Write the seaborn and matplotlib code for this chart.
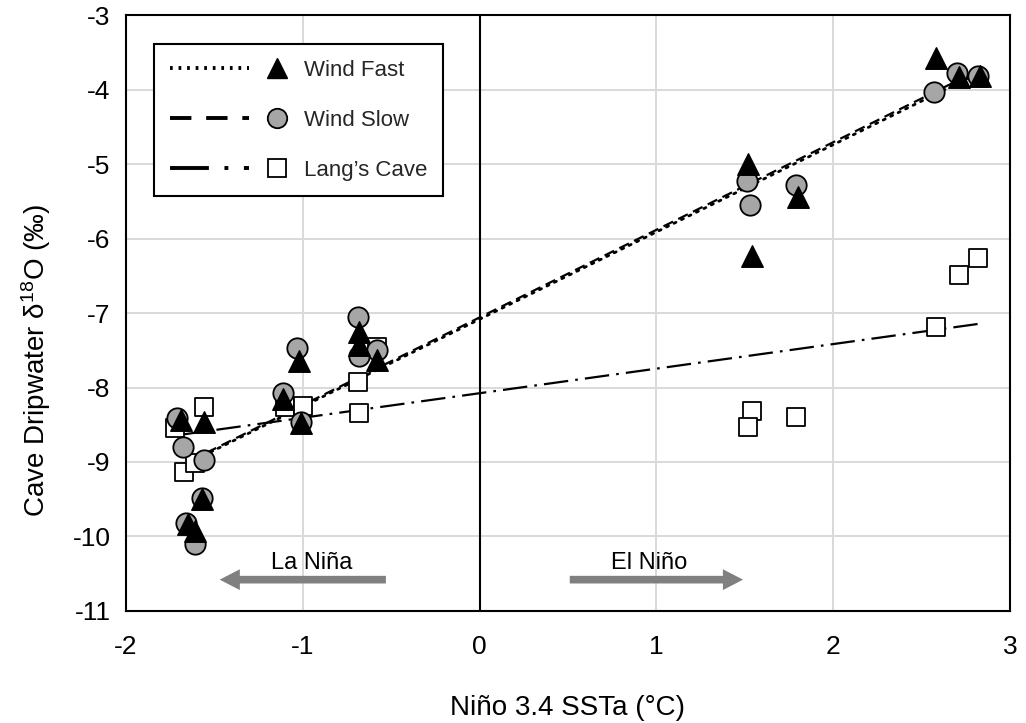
import matplotlib
matplotlib.use("Agg")
import matplotlib.pyplot as plt
from matplotlib.lines import Line2D
from matplotlib.legend_handler import HandlerBase
import numpy as np
import pandas as pd
import seaborn as sns

# ---- data ----
nino_fast = [-1.69, -1.56, -1.57, -1.65, -1.61, -1.11, -1.02, -1.01, -0.68, -0.68, -0.58,
             1.52, 1.54, 1.80, 2.58, 2.71, 2.83]
d18o_fast = [-8.44, -8.46, -9.50, -9.83, -9.93, -8.15, -7.64, -8.48, -7.25, -7.43, -7.63,
             -5.00, -6.23, -5.44, -3.57, -3.83, -3.82]

nino_slow = [-1.71, -1.68, -1.56, -1.57, -1.66, -1.61, -1.11, -1.03, -1.01, -0.69, -0.68, -0.58,
             1.515, 1.53, 1.79, 2.57, 2.70, 2.82]
d18o_slow = [-8.41, -8.80, -8.97, -9.48, -9.82, -10.10, -8.07, -7.47, -8.46, -7.05, -7.58, -7.49,
             -5.22, -5.55, -5.28, -4.03, -3.77, -3.82]

nino_lang = [-1.56, -1.72, -1.67, -1.61, -1.10, -1.00, -0.69, -0.68, -0.58,
             1.54, 1.52, 1.79, 2.58, 2.71, 2.82]
d18o_lang = [-8.26, -8.55, -9.13, -9.02, -8.26, -8.25, -7.92, -8.34, -7.46,
             -8.31, -8.53, -8.40, -7.19, -6.49, -6.26]

series_names = ["Wind Fast", "Wind Slow", "Lang\u2019s Cave"]
x_ticks = [-2, -1, 0, 1, 2, 3]
y_ticks = [-11, -10, -9, -8, -7, -6, -5, -4, -3]

sns.set_theme(style="whitegrid")
plt.rcParams["font.family"] = ["Liberation Sans", "DejaVu Sans"]
plt.rcParams["mathtext.fontset"] = "custom"
plt.rcParams["mathtext.rm"] = "Liberation Sans"
plt.rcParams["mathtext.it"] = "Liberation Sans"
plt.rcParams["axes.unicode_minus"] = False

fig, ax = plt.subplots(figsize=(10.26, 7.23), dpi=100)
fig.subplots_adjust(left=0.1228, right=0.9844, top=0.979, bottom=0.155)

df_fast = pd.DataFrame({"x": nino_fast, "y": d18o_fast})
df_slow = pd.DataFrame({"x": nino_slow, "y": d18o_slow})
df_lang = pd.DataFrame({"x": nino_lang, "y": d18o_lang})

# regression lines
lw_plot = 1.6
sns.regplot(data=df_fast, x="x", y="y", scatter=False, ci=None, truncate=True, ax=ax,
            line_kws=dict(color="black", lw=2.0, dashes=(0.8, 2.2), dash_capstyle="round", zorder=3))
sns.regplot(data=df_slow, x="x", y="y", scatter=False, ci=None, truncate=True, ax=ax,
            line_kws=dict(color="black", lw=lw_plot, dashes=(4.8, 2.6), zorder=3))
sns.regplot(data=df_lang, x="x", y="y", scatter=False, ci=None, truncate=True, ax=ax,
            line_kws=dict(color="black", lw=lw_plot, dashes=(11, 3.2, 1.2, 3.2), zorder=3))

# points
sns.scatterplot(data=df_lang, x="x", y="y", marker="s", s=175, facecolor="white",
                edgecolor="black", linewidth=1.3, ax=ax, zorder=4)
sns.scatterplot(data=df_slow, x="x", y="y", marker="o", s=215, color="#A6A6A6",
                edgecolor="black", linewidth=1.3, ax=ax, zorder=5)
sns.scatterplot(data=df_fast, x="x", y="y", marker="^", s=240, color="black",
                edgecolor="black", linewidth=1.0, ax=ax, zorder=6)

ax.axvline(0, color="black", lw=1.5, zorder=2)

ax.set_xlim(-2, 3)
ax.set_ylim(-11, -3)
ax.set_xticks(x_ticks)
ax.set_yticks(y_ticks)
ax.set_xticklabels([str(t) for t in x_ticks])
ax.set_yticklabels([str(t) for t in y_ticks])
ax.tick_params(axis="both", length=0, labelsize=19, colors="black")
ax.tick_params(axis="x", pad=17)
ax.tick_params(axis="y", pad=11)
ax.grid(True, color="#D9D9D9", lw=1.4)
ax.set_axisbelow(True)
for sp in ax.spines.values():
    sp.set_color("black")
    sp.set_linewidth(1.5)

ax.set_xlabel("Niño 3.4 SSTa (°C)", fontsize=20, labelpad=26, color="black")
ax.set_ylabel("Cave Dripwater δ$^{18}$O (‰)", fontsize=20, color="black")
ax.yaxis.set_label_coords(-0.083, 0.42)

# ENSO arrows
arrow_kw = dict(arrowstyle="simple,head_width=1.5,head_length=1.45,tail_width=0.55",
                color="#808080", mutation_scale=10, shrinkA=0, shrinkB=0, lw=0)
ax.annotate("", xy=(-1.47, -10.58), xytext=(-0.53, -10.58), arrowprops=arrow_kw, zorder=2)
ax.annotate("", xy=(1.49, -10.58), xytext=(0.51, -10.58), arrowprops=arrow_kw, zorder=2)
ax.text(-0.95, -10.36, "La Niña", fontsize=17, ha="center", va="center", color="black")
ax.text(0.96, -10.36, "El Niño", fontsize=17, ha="center", va="center", color="black")


# legend: line sample followed by marker
class LineMarker(HandlerBase):
    def create_artists(self, legend, orig_handle, xdescent, ydescent, width, height, fontsize, trans):
        ln, mk = orig_handle
        y = height / 2 - ydescent
        x0 = -xdescent
        l = Line2D([x0, x0 + 0.65 * width], [y, y])
        l.update_from(ln)
        l.set_data([x0, x0 + 0.65 * width], [y, y])
        m = Line2D([x0 + 0.877 * width], [y])
        m.update_from(mk)
        m.set_data([x0 + 0.877 * width], [y])
        l.set_transform(trans)
        m.set_transform(trans)
        return [l, m]


h_fast = (Line2D([], [], color="black", lw=2.8, dashes=(0.7, 1.5)),
          Line2D([], [], ls="none", marker="^", ms=15, mfc="black", mec="black"))
h_slow = (Line2D([], [], color="black", lw=2.8, dashes=(5.5, 3.8)),
          Line2D([], [], ls="none", marker="o", ms=14, mfc="#A6A6A6", mec="black", mew=1.3))
h_lang = (Line2D([], [], color="black", lw=2.8, dashes=(10, 4, 1, 4)),
          Line2D([], [], ls="none", marker="s", ms=12.5, mfc="white", mec="black", mew=1.3))

leg = ax.legend([h_fast, h_slow, h_lang], series_names, handler_map={tuple: LineMarker()},
                loc="upper left", bbox_to_anchor=(0.0317, 0.951), borderaxespad=0,
                fontsize=16, handlelength=5.5, handletextpad=0.55, labelspacing=1.3,
                borderpad=0.7, frameon=True, fancybox=False, framealpha=1, edgecolor="black")
leg.get_frame().set_linewidth(1.5)
leg.set_zorder(10)

fig.savefig("out.png", dpi=100)
